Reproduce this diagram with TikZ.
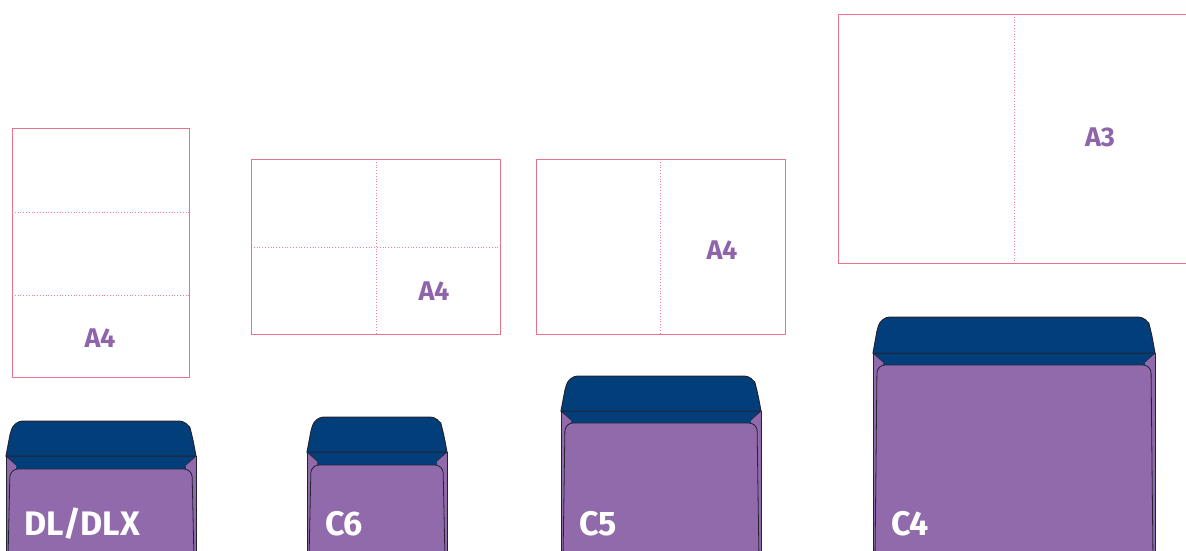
\documentclass[tikz,border=0pt]{standalone}
\usepackage{fontspec}
\setmainfont{Fira Sans}
\usepackage{tikz}

\definecolor{sheetpink}{RGB}{232,98,124}
\definecolor{envpurple}{RGB}{144,106,171}
\definecolor{flapblue}{RGB}{2,63,122}
\definecolor{envline}{RGB}{35,35,50}
\definecolor{labelpurple}{RGB}{142,100,170}

% envelope: #1 left, #2 right, #3 flap top, #4 flap base, #5 pocket top, #6 name, #7 label
\newcommand{\envelope}[7]{%
    \fill[envpurple] (#1,#4) rectangle (#2,560);
    \fill[flapblue] (#1,#4) rectangle (#2,#5);
    \fill[envpurple] (#1,#4) -- (#1+10,#4+9) -- (#1+10,#5+2) -- (#1,#5+2) -- cycle;
    \fill[envpurple] (#2,#4) -- (#2-10,#4+9) -- (#2-10,#5+2) -- (#2,#5+2) -- cycle;
    \draw[envthin] (#1,#4) -- (#1+10,#4+9);
    \draw[envthin] (#2,#4) -- (#2-10,#4+9);
    \draw[envedge] (#1,#4) -- (#1,560) (#2,#4) -- (#2,560);
    \draw[pocket] (#1+2,560) [rounded corners=8pt] -- (#1+4,#5) -- (#2-4,#5) [sharp corners] -- (#2-2,560);
    \draw[flap] (#1,#4) -- (#1+4,#3+14) [rounded corners=9pt] -- (#1+8,#3) -- (#2-8,#3)
        -- (#2-4,#3+14) [sharp corners] -- (#2,#4) -- cycle;
    \node[envlabel] (#6) at (#1+18,535) {#7};
}

\begin{document}
\begin{tikzpicture}[x=1pt,y=-1pt,
        sheet/.style={draw=sheetpink!90,line width=1pt},
        fold/.style={draw=sheetpink!80,line width=0.8pt,dotted},
        sizelabel/.style={font=\fontsize{27}{30}\selectfont\bfseries,text=labelpurple,inner sep=0pt},
        envlabel/.style={font=\fontsize{34}{38}\selectfont\bfseries,text=white,anchor=base west,inner sep=0pt},
        envedge/.style={draw=envline,line width=0.9pt},
        envthin/.style={draw=envline,line width=0.6pt},
        pocket/.style={draw=envline,line width=0.8pt,fill=envpurple},
        flap/.style={draw=envline,line width=1pt,fill=flapblue}]

    \useasboundingbox (0,0) rectangle (1186,550);
    \clip (0,0) rectangle (1186,550);

    % DL sheet
    \draw[fold] (12,212) -- (189,212) (12,295) -- (189,295);
    \draw[sheet] (12,128) rectangle (189,377);
    \node[sizelabel] (dla4) at (100,338) {A4};

    % C6 sheet
    \draw[fold] (376,159) -- (376,334) (251,247) -- (500,247);
    \draw[sheet] (251,159) rectangle (500,334);
    \node[sizelabel] (c6a4) at (434,291) {A4};

    % C5 sheet
    \draw[fold] (660,159) -- (660,334);
    \draw[sheet] (536,159) rectangle (785,334);
    \node[sizelabel] (c5a4) at (722,250) {A4};

    % C4 sheet
    \draw[fold] (1014,14) -- (1014,263);
    \draw[sheet] (838,14) rectangle (1200,263);
    \node[sizelabel] (c4a3) at (1100,137) {A3};

    % envelopes
    \envelope{6}{196}{421}{456}{469}{dl}{DL/DLX}
    \envelope{307}{447}{417}{452}{465}{c6}{C6}
    \envelope{561}{761}{376}{411}{423}{c5}{C5}
    \envelope{873}{1155}{317}{353}{365}{c4}{C4}
\end{tikzpicture}
\end{document}
